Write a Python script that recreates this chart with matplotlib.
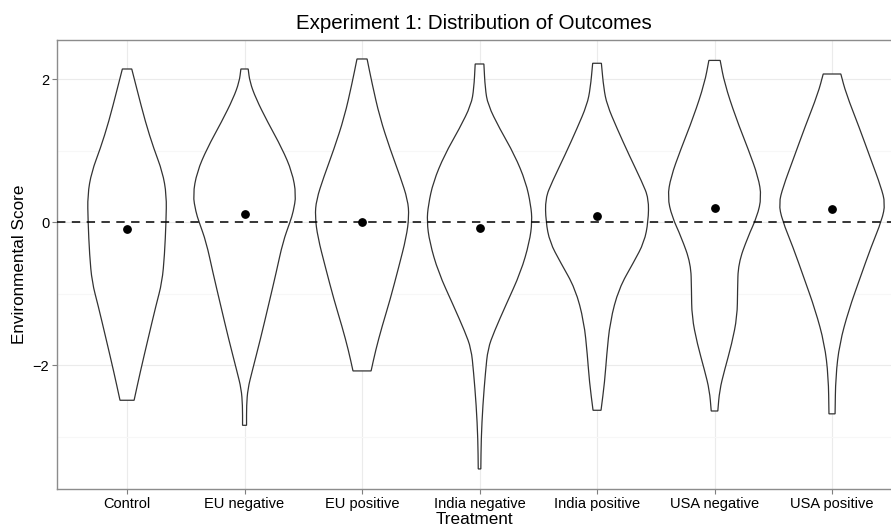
import matplotlib.pyplot as plt
from matplotlib.path import Path
from matplotlib.patches import PathPatch
from matplotlib.ticker import MultipleLocator

plt.rcParams["font.family"] = ["Liberation Sans", "DejaVu Sans"]

treatments = ["Control", "EU negative", "EU positive", "India negative",
              "India positive", "USA negative", "USA positive"]
means = [-0.10, 0.11, 0.00, -0.08, 0.08, 0.20, 0.18]

# violin outlines: score levels and half-widths
control_y = [2.14, 1.87, 1.40, 1.03, 0.70, 0.38, 0.01, -0.46, -0.84, -1.16, -1.63, -2.09, -2.49]
control_w = [0.040, 0.082, 0.156, 0.227, 0.302, 0.336, 0.332, 0.319, 0.298, 0.247, 0.179, 0.113, 0.060]

eu_neg_y = [2.14, 1.96, 1.73, 1.40, 1.03, 0.70, 0.38, 0.14, 0.01, -0.28, -0.70, -1.16, -1.63, -2.09, -2.33, -2.56, -2.84]
eu_neg_w = [0.031, 0.045, 0.096, 0.196, 0.319, 0.405, 0.440, 0.414, 0.389, 0.326, 0.270, 0.204, 0.136, 0.064, 0.028, 0.017, 0.017]

eu_pos_y = [2.28, 1.94, 1.47, 1.01, 0.63, 0.31, 0.08, -0.21, -0.63, -1.09, -1.46, -1.79, -2.08]
eu_pos_w = [0.043, 0.085, 0.150, 0.241, 0.326, 0.389, 0.400, 0.377, 0.312, 0.238, 0.170, 0.116, 0.077]

in_neg_y = [2.21, 1.87, 1.64, 1.31, 0.94, 0.56, 0.24, 0.01, -0.28, -0.70, -1.16, -1.53, -1.77, -2.09, -2.56, -3.03, -3.45]
in_neg_w = [0.037, 0.048, 0.071, 0.170, 0.298, 0.394, 0.436, 0.448, 0.425, 0.351, 0.224, 0.125, 0.071, 0.051, 0.028, 0.014, 0.011]

in_pos_y = [2.22, 1.87, 1.64, 1.31, 0.94, 0.56, 0.33, 0.01, -0.28, -0.56, -0.93, -1.39, -1.86, -2.23, -2.63]
in_pos_w = [0.037, 0.057, 0.085, 0.170, 0.272, 0.383, 0.440, 0.436, 0.402, 0.312, 0.185, 0.111, 0.082, 0.065, 0.034]

us_neg_y = [2.26, 1.94, 1.47, 1.01, 0.63, 0.35, 0.08, -0.21, -0.58, -0.95, -1.32, -1.70, -2.07, -2.35, -2.64]
us_neg_w = [0.048, 0.085, 0.179, 0.289, 0.372, 0.400, 0.363, 0.283, 0.202, 0.196, 0.193, 0.147, 0.085, 0.043, 0.028]

us_pos_y = [2.07, 1.80, 1.33, 0.87, 0.49, 0.26, 0.03, -0.35, -0.77, -1.23, -1.70, -2.16, -2.68]
us_pos_w = [0.075, 0.119, 0.230, 0.332, 0.417, 0.453, 0.425, 0.332, 0.241, 0.142, 0.064, 0.031, 0.026]

profiles = [(control_y, control_w), (eu_neg_y, eu_neg_w), (eu_pos_y, eu_pos_w),
            (in_neg_y, in_neg_w), (in_pos_y, in_pos_w), (us_neg_y, us_neg_w),
            (us_pos_y, us_pos_w)]


def smooth_side(pts, verts, codes):
    # quadratic bezier pieces through midpoints, ends kept exact
    verts.append(pts[0])
    codes.append(Path.LINETO)
    mid = lambda a, b: ((a[0] + b[0]) / 2, (a[1] + b[1]) / 2)
    verts.append(mid(pts[0], pts[1]))
    codes.append(Path.LINETO)
    for i in range(1, len(pts) - 1):
        verts += [pts[i], mid(pts[i], pts[i + 1])]
        codes += [Path.CURVE3, Path.CURVE3]
    verts.append(pts[-1])
    codes.append(Path.LINETO)


def violin_path(pos, ys, ws):
    right = [(pos + w, y) for y, w in zip(ys, ws)]
    left = [(pos - w, y) for y, w in zip(ys[::-1], ws[::-1])]
    verts, codes = [right[0]], [Path.MOVETO]
    smooth_side(right, verts, codes)
    smooth_side(left, verts, codes)
    verts.append(right[0])
    codes.append(Path.CLOSEPOLY)
    return Path(verts, codes)


fig = plt.figure(figsize=(8.91, 5.30), dpi=100)
ax = fig.add_axes([0.064, 0.0774, 0.936, 0.8471])

positions = list(range(1, len(treatments) + 1))

for pos, (ys, ws) in zip(positions, profiles):
    patch = PathPatch(violin_path(pos, ys, ws), facecolor="white",
                      edgecolor="#333333", lw=0.9, zorder=2)
    ax.add_patch(patch)

ax.axhline(0, color="black", lw=1.1, linestyle=(0, (5.5, 4.2)), zorder=3)
ax.scatter(positions, means, s=28, color="black", zorder=4)

ax.set_xlim(0.404, 7.502)
ax.set_ylim(-3.73, 2.545)
ax.set_xticks(positions)
ax.set_xticklabels(treatments)
ax.yaxis.set_minor_locator(MultipleLocator(1))
ax.set_yticks([-2, 0, 2])
ax.set_yticklabels(["\u22122", "0", "2"])

ax.grid(which="major", color="#ebebeb", lw=0.8, zorder=0)
ax.grid(which="minor", axis="y", color="#f7f7f7", lw=0.8, zorder=0)
ax.set_axisbelow(True)
ax.tick_params(which="major", length=3.6, width=0.8, color="#7f7f7f",
               labelsize=10.5, labelcolor="black", pad=2)
ax.tick_params(which="minor", length=0)

for side in ["left", "top", "bottom"]:
    ax.spines[side].set_color("#8c8c8c")
    ax.spines[side].set_linewidth(1.0)
ax.spines["right"].set_color("none")
ax.spines["right"].set_visible(False)

ax.set_xlabel("Treatment", fontsize=12.3, labelpad=1)
ax.set_ylabel("Environmental Score", fontsize=12.3, labelpad=4)
ax.set_title("Experiment 1: Distribution of Outcomes", fontsize=14.8, pad=8)

fig.savefig("out.png", dpi=100)
